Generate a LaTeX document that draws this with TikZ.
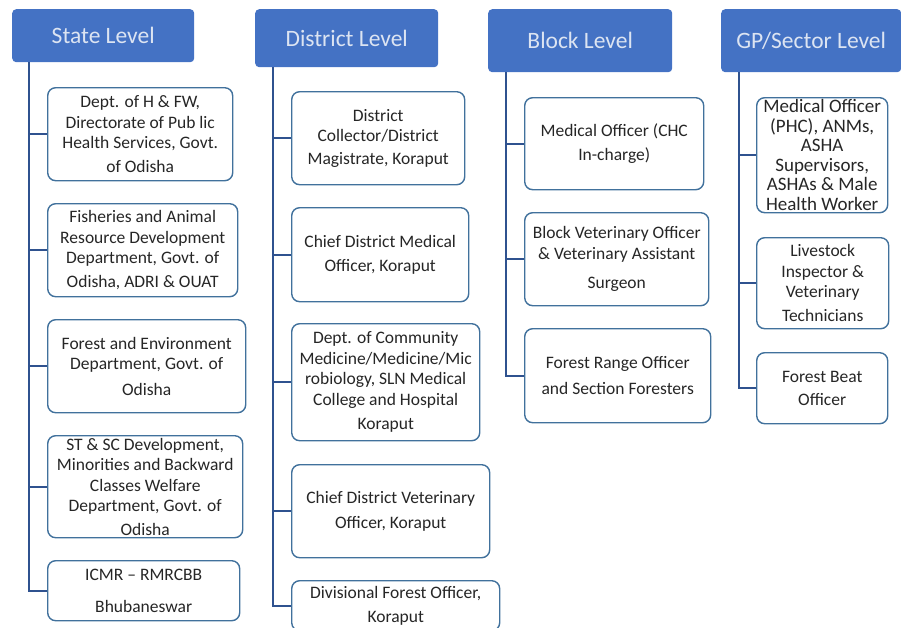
\documentclass[tikz,border=0pt]{standalone}
\usepackage{fontspec}
\setmainfont{Carlito}
\usetikzlibrary{calc}

\definecolor{levelblue}{HTML}{4472C4}
\definecolor{levelfont}{HTML}{DCE4F2}
\definecolor{unitline}{HTML}{41719C}
\definecolor{trunkline}{HTML}{2F528F}

\begin{document}
\begin{tikzpicture}[x=1pt, y=1pt,
% Node styles
 level/.style={fill=levelblue, rounded corners=4pt, text=levelfont,
 font=\fontsize{23.5}{27}\selectfont, anchor=north west, inner sep=0pt},
 unit/.style={draw=unitline, line width=1.4pt, rounded corners=8pt, fill=white,
 text=black!85, font=\fontsize{17.5}{20.5}\selectfont, align=center,
 anchor=north west, inner sep=0pt},
% Edge styles
 link/.style={draw=trunkline, line width=1.8pt}
]
\path[use as bounding box, clip] (0,0) rectangle (901,-627);

% State level
\node[level, minimum width=182pt, minimum height=53pt] (state) at (12,-9) {State Level};
\node[unit, minimum width=185pt, minimum height=93pt] (s1) at (47,-87)
 {Dept. of H \& FW,\\ Directorate of Pub lic\\ Health Services, Govt.\\[3pt] of Odisha};
\node[unit, minimum width=190pt, minimum height=93pt] (s2) at (47,-203)
 {Fisheries and Animal\\ Resource Development\\ Department, Govt. of\\[3pt] Odisha, ADRI \& OUAT};
\node[unit, minimum width=198pt, minimum height=93pt] (s3) at (47,-319)
 {Forest and Environment\\ Department, Govt. of\\[5pt] Odisha};
\node[unit, minimum width=195pt, minimum height=102pt] (s4) at (47,-435)
 {ST \& SC Development,\\ Minorities and Backward\\ Classes Welfare\\ Department, Govt. of\\[3pt] Odisha};
\node[unit, minimum width=192pt, minimum height=60pt] (s5) at (47,-560)
 {ICMR -- RMRCBB\\[11pt] Bhubaneswar};

% District level
\node[level, minimum width=183pt, minimum height=58pt] (district) at (255,-9) {District Level};
\node[unit, minimum width=173pt, minimum height=93pt] (d1) at (291,-91)
 {District\\ Collector/District\\[2pt] Magistrate, Koraput};
\node[unit, minimum width=177pt, minimum height=94pt] (d2) at (291,-207)
 {Chief District Medical\\[4pt] Officer, Koraput};
\node[unit, minimum width=188pt, minimum height=117pt] (d3) at (291,-323)
 {Dept. of Community\\ Medicine/Medicine/Mic\\ robiology, SLN Medical\\ College and Hospital\\[4pt] Koraput};
\node[unit, minimum width=198pt, minimum height=93pt] (d4) at (291,-464)
 {Chief District Veterinary\\[4pt] Officer, Koraput};
\node[unit, minimum width=208pt, minimum height=50pt] (d5) at (291,-580)
 {Divisional Forest Officer,\\[3pt] Koraput};

% Block level
\node[level, minimum width=184pt, minimum height=63pt] (block) at (488,-9) {Block Level};
\node[unit, minimum width=179pt, minimum height=92pt] (b1) at (524,-97)
 {Medical Officer (CHC\\[4pt] In-charge)};
\node[unit, minimum width=184pt, minimum height=93pt] (b2) at (524,-212)
 {Block Veterinary Officer\\ \& Veterinary Assistant\\[9pt] Surgeon};
\node[unit, minimum width=186pt, minimum height=94pt] (b3) at (524,-328)
 {Forest Range Officer\\[5pt] and Section Foresters};

% GP/Sector level
\node[level, minimum width=180pt, minimum height=63pt] (sector) at (721,-9) {GP/Sector Level};
\node[unit, minimum width=131pt, minimum height=115pt,
 font=\fontsize{19}{19.5}\selectfont] (g1) at (756,-97)
 {Medical Officer\\ (PHC), ANMs,\\ ASHA\\ Supervisors,\\ ASHAs \& Male\\ Health Worker};
\node[unit, minimum width=132pt, minimum height=91pt] (g2) at (756,-237)
 {Livestock\\ Inspector \&\\ Veterinary\\[3pt] Technicians};
\node[unit, minimum width=131pt, minimum height=71pt] (g3) at (756,-352)
 {Forest Beat\\[3pt] Officer};

% Trunks and branches
\coordinate (stateTrunk) at ($(state.south west)+(17,0)$);
\coordinate (districtTrunk) at ($(district.south west)+(18,0)$);
\coordinate (blockTrunk) at ($(block.south west)+(18,0)$);
\coordinate (sectorTrunk) at ($(sector.south west)+(18,0)$);

\foreach \u in {s1,s2,s3,s4,s5}
 \draw[link] (stateTrunk) |- (\u.west);
\foreach \u in {d1,d2,d3,d4,d5}
 \draw[link] (districtTrunk) |- (\u.west);
\foreach \u in {b1,b2,b3}
 \draw[link] (blockTrunk) |- (\u.west);
\foreach \u in {g1,g2,g3}
 \draw[link] (sectorTrunk) |- (\u.west);

\end{tikzpicture}
\end{document}
